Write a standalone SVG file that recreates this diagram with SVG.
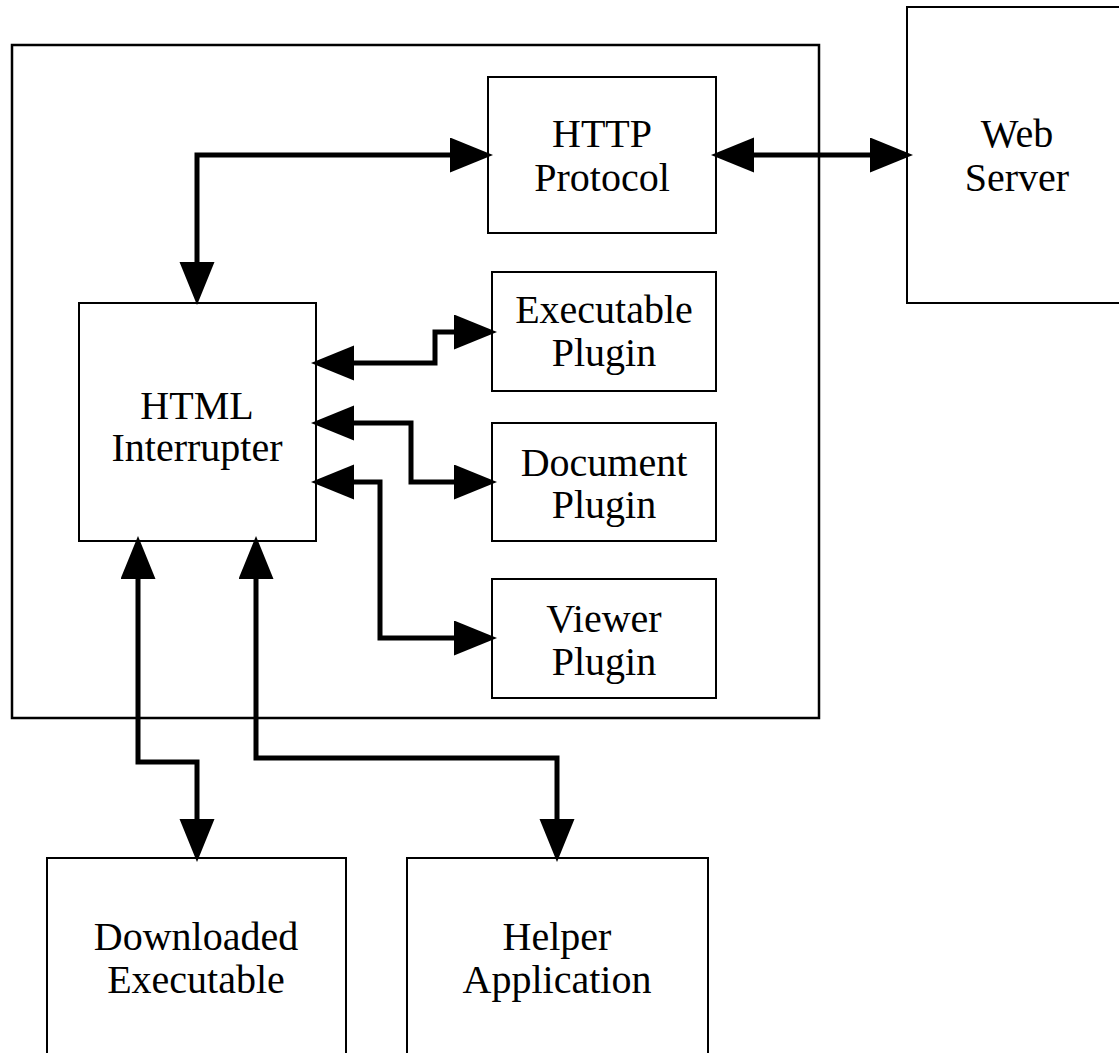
<svg xmlns="http://www.w3.org/2000/svg" width="1119" height="1053" viewBox="0 0 1119 1053">
<style>
.box{fill:none;stroke:#000;stroke-width:2}
.lbl{font-family:"Liberation Serif","Times New Roman",serif;font-size:40px;text-anchor:middle;fill:#000}
.con{fill:none;stroke:#000;stroke-width:5;marker-start:url(#ah);marker-end:url(#ah)}
</style>
<defs>
<marker id="ah" markerUnits="userSpaceOnUse" markerWidth="46" markerHeight="36" refX="23" refY="17.5" orient="auto-start-reverse">
<path d="M0,0 L43,17.5 L0,35 z" fill="#000"/>
</marker>
</defs>
<rect width="1119" height="1053" fill="#fff"/>
<g id="browser"><rect class="box" x="12" y="45" width="807" height="673" style="stroke-width:2.5"/></g>
<g id="http"><rect class="box" x="488" y="77" width="228" height="156"/><text class="lbl" x="602" y="147">HTTP</text><text class="lbl" x="602" y="191">Protocol</text></g>
<g id="web"><rect class="box" x="907" y="7" width="220" height="296"/><text class="lbl" x="1017" y="147">Web</text><text class="lbl" x="1017" y="191">Server</text></g>
<g id="html"><rect class="box" x="79" y="303" width="237" height="238"/><text class="lbl" x="197" y="419">HTML</text><text class="lbl" x="197" y="461">Interrupter</text></g>
<g id="exec"><rect class="box" x="492" y="272" width="224" height="119"/><text class="lbl" x="604" y="323">Executable</text><text class="lbl" x="604" y="366">Plugin</text></g>
<g id="doc"><rect class="box" x="492" y="423" width="224" height="118"/><text class="lbl" x="604" y="476">Document</text><text class="lbl" x="604" y="518">Plugin</text></g>
<g id="viewer"><rect class="box" x="492" y="579" width="224" height="119"/><text class="lbl" x="604" y="632">Viewer</text><text class="lbl" x="604" y="675">Plugin</text></g>
<g id="download"><rect class="box" x="47" y="858" width="299" height="220"/><text class="lbl" x="196" y="950">Downloaded</text><text class="lbl" x="196" y="993">Executable</text></g>
<g id="helper"><rect class="box" x="407" y="858" width="301" height="220"/><text class="lbl" x="557" y="950">Helper</text><text class="lbl" x="557" y="993">Application</text></g>
<g id="connectors">
<path class="con" d="M197,285 V155 H473"/>
<path class="con" d="M731,155 H893"/>
<path class="con" d="M331,363 H435 V332 H477"/>
<path class="con" d="M331,423 H411 V482 H477"/>
<path class="con" d="M331,482 H380 V638 H477"/>
<path class="con" d="M138,556 V762 H197 V842"/>
<path class="con" d="M256,556 V758 H557 V842"/>
</g>
</svg>
